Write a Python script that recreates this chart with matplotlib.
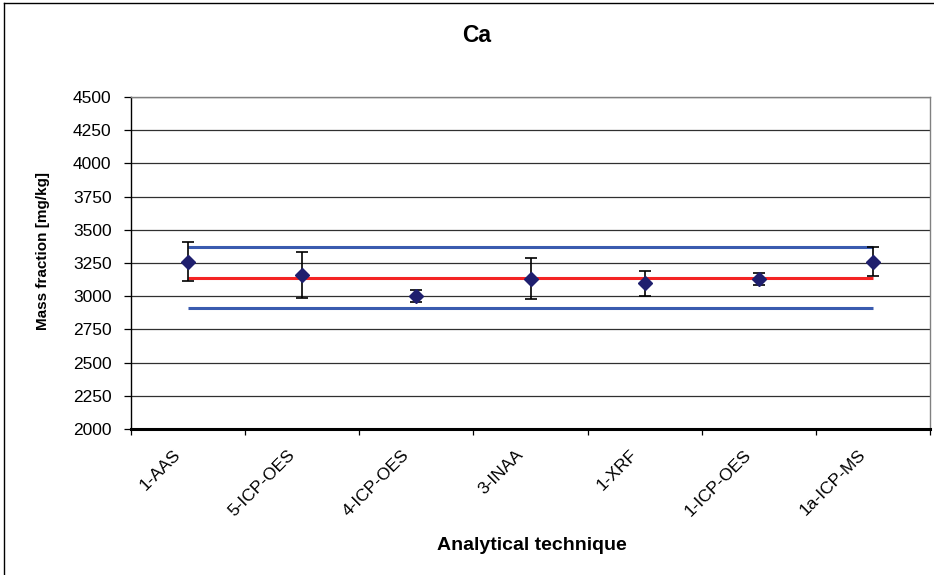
import matplotlib
matplotlib.use("Agg")
import matplotlib.pyplot as plt
import matplotlib.transforms as mtransforms
from matplotlib.lines import Line2D
import numpy as np

categories = ["1-AAS", "5-ICP-OES", "4-ICP-OES", "3-INAA", "1-XRF", "1-ICP-OES", "1a-ICP-MS"]
values = [3257, 3160, 3000, 3130, 3097, 3130, 3260]
err_low = [3118, 2987, 2955, 2980, 3005, 3087, 3152]
err_high = [3411, 3335, 3043, 3290, 3193, 3172, 3368]
ref_value = 3140
ref_upper = 3367
ref_lower = 2910
y_ticks = [2000, 2250, 2500, 2750, 3000, 3250, 3500, 3750, 4000, 4250, 4500]

plt.rcParams['font.family'] = ['Liberation Sans', 'DejaVu Sans']

fig = plt.figure(figsize=(9.34, 5.75), dpi=100)
ax = fig.add_axes([131/934, 1-429/575, (930-131)/934, (429-97)/575])

n = len(categories)
xpos = np.arange(n) + 0.5
vals = np.array(values)
yerr = np.vstack([vals - np.array(err_low), np.array(err_high) - vals])

ax.set_ylim(2000, 4500)
ax.set_xlim(0, n)
ax.set_yticks(y_ticks)
ax.set_yticklabels([str(t) for t in y_ticks], fontsize=12.5)
ax.yaxis.grid(True, color='#303030', linewidth=0.9)
ax.set_axisbelow(True)

# reference lines
ax.plot([xpos[0], xpos[-1]], [ref_upper, ref_upper], color='#3A5BAF', lw=2.2, solid_capstyle='butt', zorder=2)
ax.plot([xpos[0], xpos[-1]], [ref_lower, ref_lower], color='#3A5BAF', lw=2.2, solid_capstyle='butt', zorder=2)
ax.plot([xpos[0], xpos[-1]], [ref_value, ref_value], color='#F42424', lw=2.2, solid_capstyle='butt', zorder=2)

ax.errorbar(xpos, vals, yerr=yerr, fmt='D', color='#1F1F6E', markersize=7.5,
            ecolor='black', elinewidth=1.2, capsize=4.5, capthick=1.2, zorder=3)

# x ticks at category boundaries
ax.set_xticks(np.arange(n + 1))
ax.set_xticklabels([])
ax.set_xticks(xpos, minor=True)
ax.set_xticklabels(categories, minor=True, rotation=45, ha='right', va='top',
                   rotation_mode='anchor', fontsize=12.5)
ax.tick_params(axis='x', which='minor', length=0, pad=13)
ax.tick_params(axis='x', which='major', length=4, width=0.9, direction='out', color='black')
ax.tick_params(axis='y', length=5, width=0.9, direction='out', color='black', pad=9)
offset = mtransforms.ScaledTranslation(-15/100, 0, fig.dpi_scale_trans)
for lab in ax.xaxis.get_minorticklabels():
    lab.set_transform(lab.get_transform() + offset)

for s in ['top', 'right']:
    ax.spines[s].set_color('#808080')
    ax.spines[s].set_linewidth(1.0)
ax.spines['left'].set_color('black')
ax.spines['left'].set_linewidth(1.0)
ax.spines['bottom'].set_color('black')
ax.spines['bottom'].set_linewidth(2.2)

fig.text(43/934, 1-251/575, "Mass fraction [mg/kg]", rotation=90, ha='center', va='center',
         fontsize=11, fontweight='bold')
fig.text(532/934, 1-545/575, "Analytical technique", ha='center', va='center',
         fontsize=14, fontweight='bold')
fig.text(477/934, 1-35/575, "Ca", ha='center', va='center', fontsize=16.5, fontweight='bold')

# outer chart border
fig.add_artist(Line2D([4/934, 4/934], [0, 1-3/575], transform=fig.transFigure, color='black', lw=1.0))
fig.add_artist(Line2D([4/934, 1], [1-3/575, 1-3/575], transform=fig.transFigure, color='black', lw=1.0))

fig.savefig("out.png", dpi=100)
